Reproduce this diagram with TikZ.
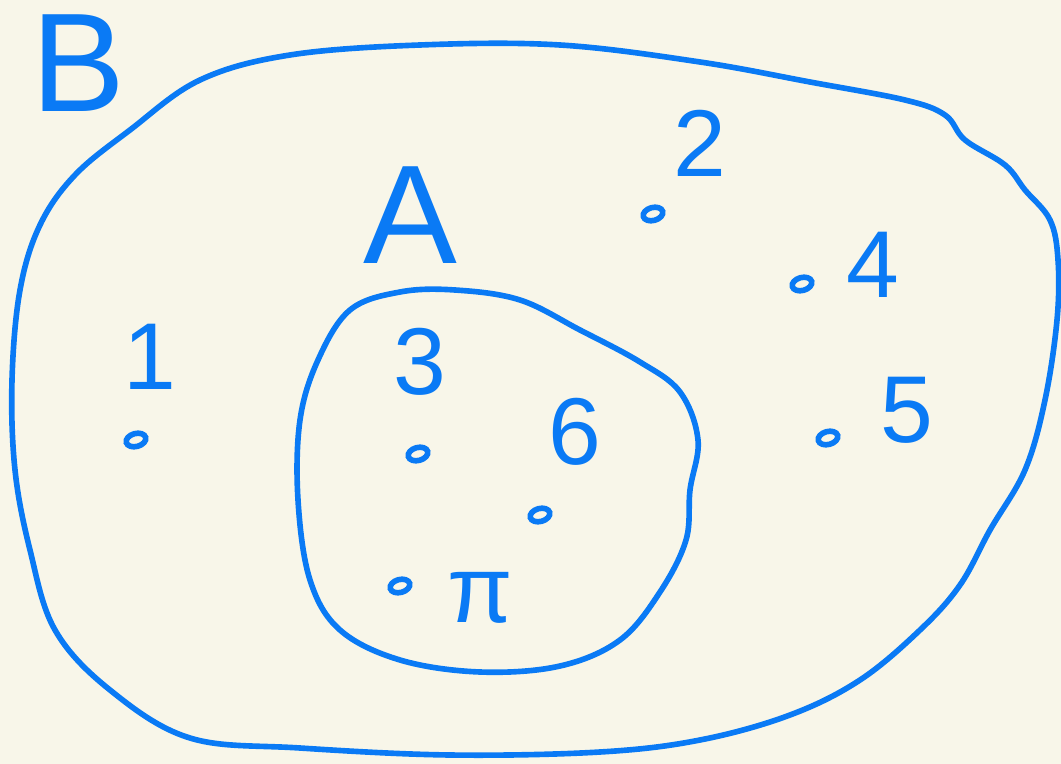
\documentclass[tikz,border=0pt]{standalone}
\usepackage{fontspec}
\setsansfont{Liberation Sans}
\usetikzlibrary{shapes.geometric}
\definecolor{cpaper}{HTML}{F8F6E9}
\definecolor{cink}{HTML}{0A7AF5}
\tikzset{
  every picture/.style={font=\sffamily, line width=1.2pt},
  blob/.style={draw=cink, line width=1.6pt, line join=round},
  pt/.style={ellipse, draw=cink, line width=1.6pt, minimum width=0.2cm, minimum height=0.13cm, inner sep=0pt, rotate=15},
  lbl/.style={text=cink, font=\sffamily\fontsize{27}{27}\selectfont, inner sep=0pt},
  setname/.style={lbl, font=\sffamily\fontsize{40}{40}\selectfont},
}

\begin{document}
\begin{tikzpicture}[x=0.01cm, y=-0.01cm]
  \fill[cpaper] (0,0) rectangle (1061,764);
  \useasboundingbox (0,0) rectangle (1061,764);
  % outer set B
  \draw[blob] plot[smooth cycle, tension=0.6] coordinates {
    (905,100) (945,115) (965,140) (1005,165) (1025,190) (1050,220) (1058,260) (1057,320)
    (1045,400) (1025,470) (990,530) (960,585) (920,630) (860,680) (790,715) (700,740)
    (600,752) (450,755) (300,748) (190,738) (110,690) (55,630) (30,550) (15,470)
    (12,380) (20,290) (40,225) (75,175) (130,130) (200,80) (290,55) (420,45)
    (560,45) (700,62) (810,82)};
  % inner set A
  \draw[blob] plot[smooth cycle, tension=0.6] coordinates {
    (350,310) (400,292) (455,290) (520,300) (580,330) (640,362) (680,392) (698,440)
    (690,490) (686,540) (660,592) (620,640) (560,666) (480,672) (400,660) (340,630)
    (310,580) (298,500) (300,420) (318,360)};
  % set names
  \node[setname] (nameB) at (78,63) {B};
  \node[setname] (nameA) at (410,215) {A};
  % elements
  \node[pt] (p1) at (136,440) {};
  \node[lbl] (l1) at (150,357) {1};
  \node[pt] (p2) at (653,214) {};
  \node[lbl] (l2) at (700,143) {2};
  \node[pt] (p4) at (802,284) {};
  \node[lbl] (l4) at (873,265) {4};
  \node[pt] (p5) at (828,438) {};
  \node[lbl] (l5) at (907,410) {5};
  \node[pt] (p3) at (418,454) {};
  \node[lbl] (l3) at (420,362) {3};
  \node[pt] (p6) at (540,515) {};
  \node[lbl] (l6) at (575,432) {6};
  \node[pt] (ppi) at (400,586) {};
  \node[lbl] (lpi) at (480,598) {π};
\end{tikzpicture}
\end{document}
